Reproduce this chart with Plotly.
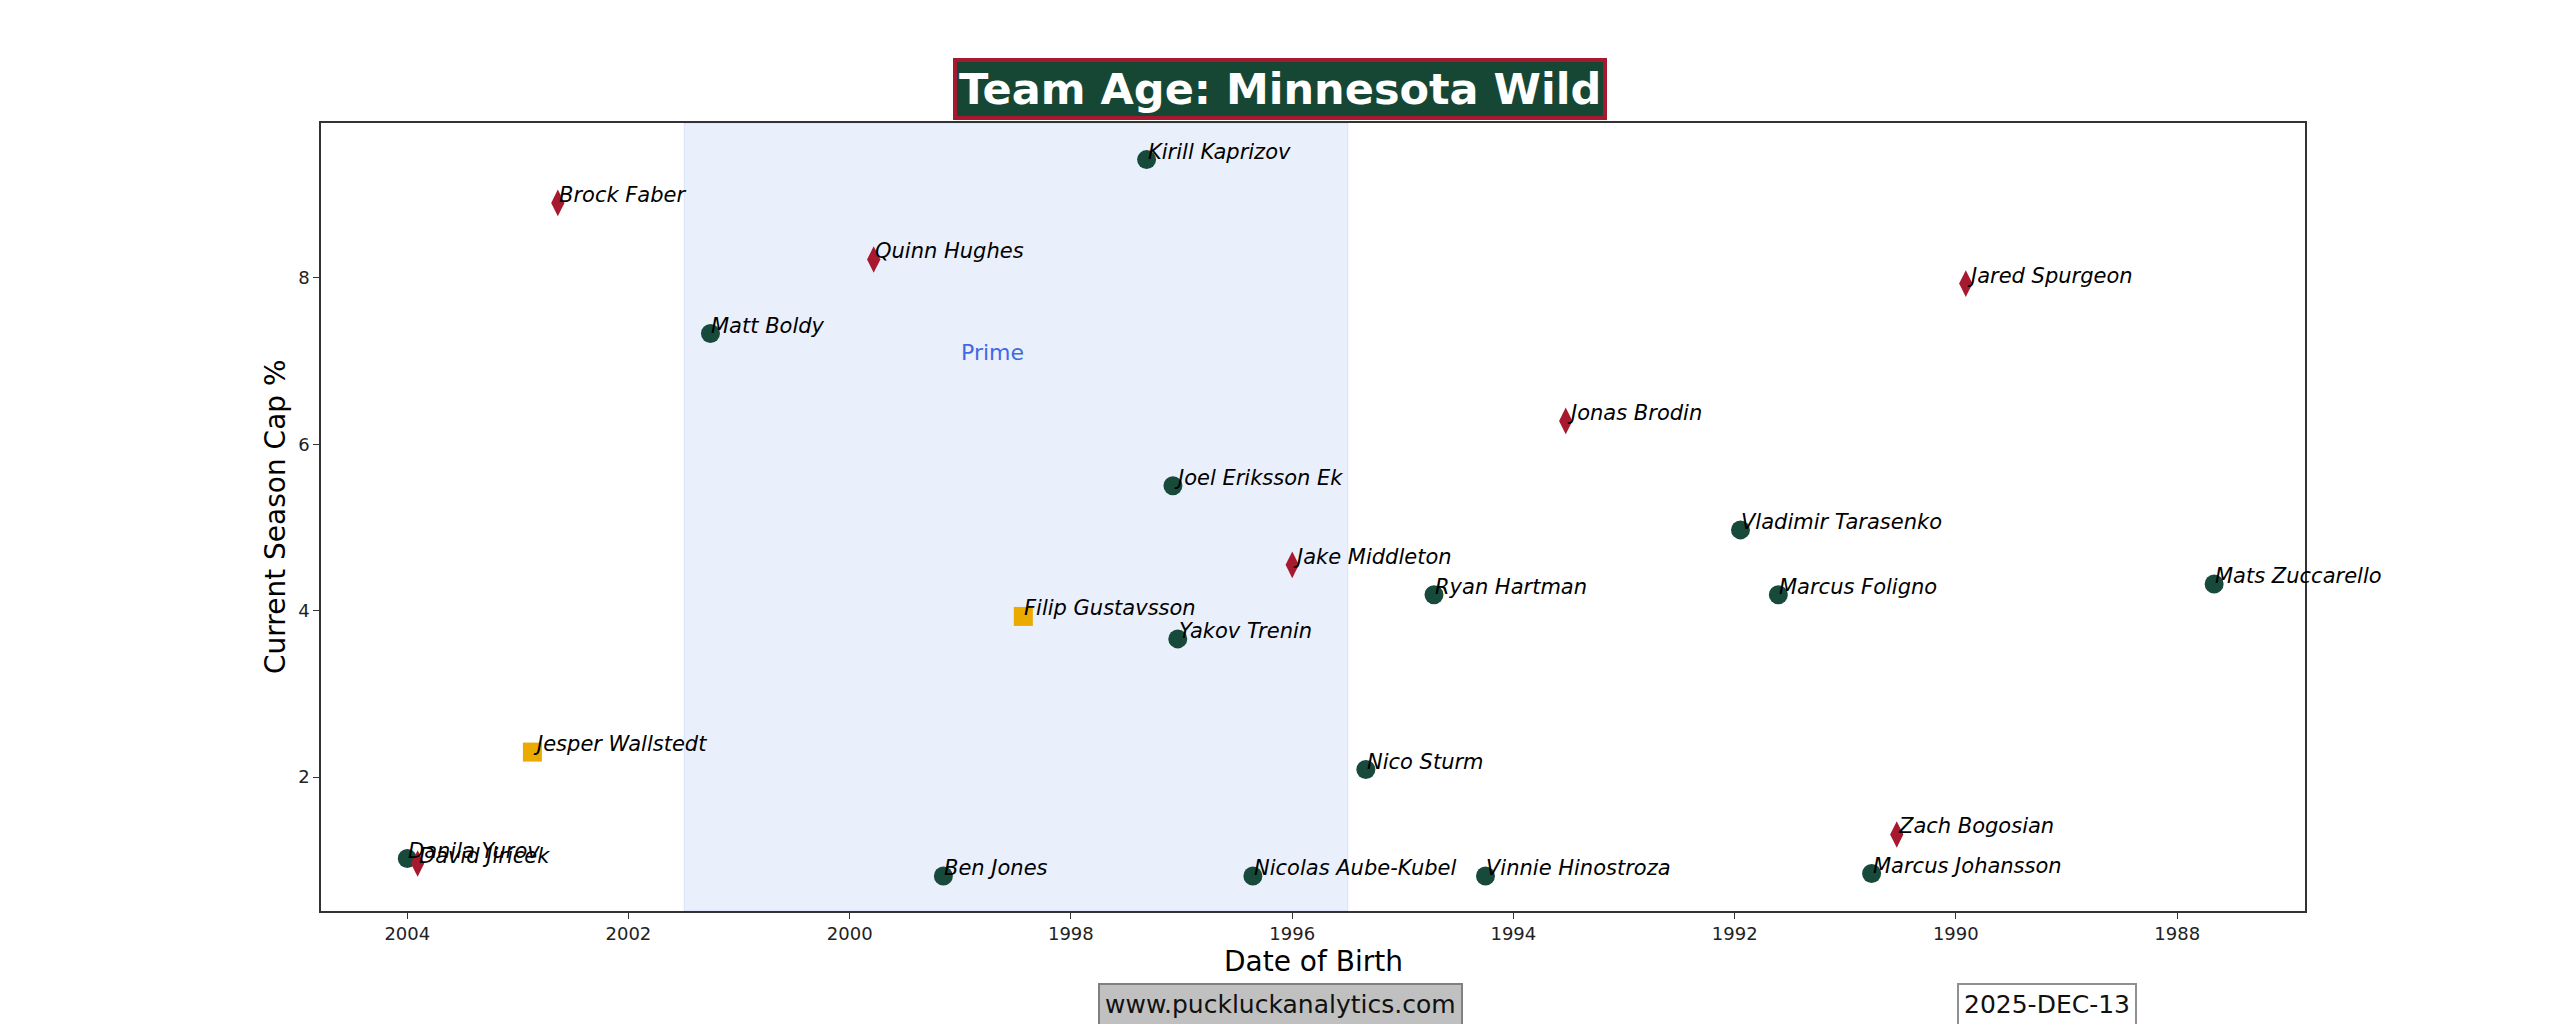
import plotly.graph_objects as go

# ---- data ----
names = ["Kirill Kaprizov", "Brock Faber", "Quinn Hughes", "Matt Boldy", "Jared Spurgeon",
         "Jonas Brodin", "Joel Eriksson Ek", "Vladimir Tarasenko", "Jake Middleton", "Ryan Hartman",
         "Marcus Foligno", "Mats Zuccarello", "Filip Gustavsson", "Yakov Trenin", "Jesper Wallstedt",
         "Nico Sturm", "Zach Bogosian", "Marcus Johansson", "Vinnie Hinostroza", "Nicolas Aube-Kubel",
         "Ben Jones", "Danila Yurov", "David Jiricek"]
birth_dates = ["1997-04-26", "2002-08-22", "1999-10-14", "2001-04-05", "1989-11-29",
               "1993-07-12", "1997-01-29", "1991-12-13", "1996-01-01", "1994-09-20",
               "1991-08-10", "1987-09-01", "1998-06-07", "1997-01-13", "2002-11-14",
               "1995-05-03", "1990-07-15", "1990-10-06", "1994-04-03", "1996-05-10",
               "1999-02-26", "2004-01-01", "2003-11-28"]
cap_pct = [9.42, 8.90, 8.22, 7.33, 7.93,
           6.28, 5.50, 4.97, 4.55, 4.19,
           4.19, 4.32, 3.93, 3.66, 2.30,
           2.09, 1.31, 0.84, 0.81, 0.81,
           0.81, 1.02, 0.96]
positions = ["F", "D", "D", "F", "D",
             "D", "F", "F", "D", "F",
             "F", "F", "G", "F", "G",
             "F", "D", "F", "F", "F",
             "F", "F", "D"]

prime_start = "1995-07-01"
prime_end = "2001-07-01"
prime_label_date = "1999-01-01"
prime_label_y = 7.0

x_range = ["2004-10-12", "1986-11-05"]
y_range = [0.39, 9.86]

title_text = "Team Age: Minnesota Wild"
site_text = "www.puckluckanalytics.com"
date_text = "2025-DEC-13"

# ---- styling ----
W, H = 2560, 1024
L, R, T, B = 321, 255, 123, 113
PW, PH = W - L - R, H - T - B

def px_x(X):
    return (X - L) / PW

def px_y(Y):
    return (H - B - Y) / PH

pos_style = {
    "F": dict(symbol="circle", color="#184a3c", size=19),
    "D": dict(symbol="diamond-tall", color="#a6192e", size=19),
    "G": dict(symbol="square", color="#eaaa00", size=19),
}

fig = go.Figure()

# prime band
fig.add_shape(type="rect", xref="x", yref="paper", x0=prime_start, x1=prime_end, y0=0, y1=1,
              fillcolor="rgba(65,105,225,0.11)", line=dict(color="rgba(65,105,225,0.12)", width=1),
              layer="below")

for p in ["F", "D", "G"]:
    idx = [i for i, q in enumerate(positions) if q == p]
    st = pos_style[p]
    fig.add_trace(go.Scatter(
        x=[birth_dates[i] for i in idx], y=[cap_pct[i] for i in idx],
        mode="markers", showlegend=False,
        marker=dict(symbol=st["symbol"], color=st["color"], size=st["size"], line=dict(width=0)),
        hoverinfo="text", text=[names[i] for i in idx]))

annotations = []
for n, d, v in zip(names, birth_dates, cap_pct):
    annotations.append(dict(x=d, y=v, xref="x", yref="y", text=n, showarrow=False,
                            xanchor="left", yanchor="bottom", xshift=-1, yshift=-6,
                            font=dict(family="DejaVu Sans", size=21, color="black", style="italic")))

annotations.append(dict(x=prime_label_date, y=prime_label_y, xref="x", yref="y", text="Prime",
                        showarrow=False, xanchor="left", yanchor="bottom", xshift=-1, yshift=-6,
                        font=dict(family="DejaVu Sans", size=22, color="#4169e1")))

# title
annotations.append(dict(x=px_x(1280), y=px_y(89), xref="paper", yref="paper", text="<b>" + title_text + "</b>",
                        showarrow=False, xanchor="center", yanchor="middle",
                        font=dict(family="DejaVu Sans", size=43, color="white"),
                        bgcolor="#154734", bordercolor="#a6192e", borderwidth=4, borderpad=2))

# axis titles
annotations.append(dict(x=0.5, y=0, xref="paper", yref="paper", text="Date of Birth", showarrow=False,
                        xanchor="center", yanchor="middle", yshift=-50,
                        font=dict(family="DejaVu Sans", size=28, color="black")))
annotations.append(dict(x=0, y=0.5, xref="paper", yref="paper", text="Current Season Cap %", showarrow=False,
                        xanchor="center", yanchor="middle", xshift=-46, textangle=-90,
                        font=dict(family="DejaVu Sans", size=28, color="black")))

# footer boxes
annotations.append(dict(x=px_x(1280), y=px_y(1004), xref="paper", yref="paper", text=site_text,
                        showarrow=False, xanchor="center", yanchor="middle",
                        font=dict(family="DejaVu Sans", size=25, color="#111"),
                        bgcolor="#c0c0c0", bordercolor="#808080", borderwidth=2, borderpad=5))
annotations.append(dict(x=px_x(2047), y=px_y(1004), xref="paper", yref="paper", text=date_text,
                        showarrow=False, xanchor="center", yanchor="middle",
                        font=dict(family="DejaVu Sans", size=25, color="#111"),
                        bgcolor="white", bordercolor="#909090", borderwidth=2, borderpad=5))

fig.update_layout(
    width=W, height=H,
    margin=dict(l=L, r=R, t=T, b=B, autoexpand=False),
    paper_bgcolor="white", plot_bgcolor="white",
    font=dict(family="DejaVu Sans", color="black"),
    annotations=annotations,
    xaxis=dict(type="date", range=x_range, tick0="1988-01-01", dtick="M24", tickformat="%Y",
               showgrid=False, zeroline=False, showline=True, linecolor="#333", linewidth=1.5,
               mirror=True, ticks="outside", ticklen=6, tickwidth=1.3, tickcolor="#333",
               tickfont=dict(size=18, color="#222")),
    yaxis=dict(range=y_range, tick0=0, dtick=2, showgrid=False, zeroline=False,
               showline=True, linecolor="#333", linewidth=1.5, mirror=True,
               ticks="outside", ticklen=6, tickwidth=1.3, tickcolor="#333",
               tickfont=dict(size=18, color="#222")),
)

fig.write_html("out.html", config={"displayModeBar": False},
               post_script="document.body.style.margin='0px';document.body.style.overflow='hidden';")
